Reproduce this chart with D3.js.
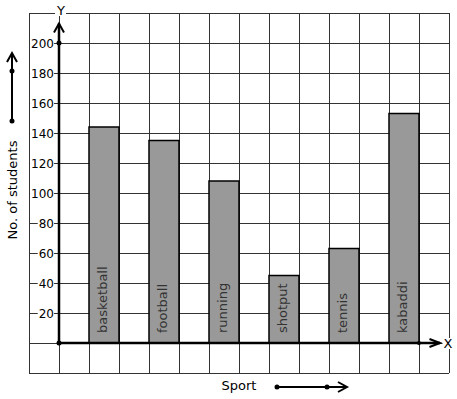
<!DOCTYPE html>
<html><head><meta charset="utf-8">
<script src="https://cdn.jsdelivr.net/npm/d3@7"></script>
<style>html,body{margin:0;padding:0;background:#fff;}svg{display:block;font-family:"DejaVu Sans",sans-serif;}</style>
</head><body>
<svg id="c" width="457" height="399"></svg>
<script>
const categories = ["basketball","football","running","shotput","tennis","kabaddi"];
const values = [144,135,108,45,63,153];
const yTicks = [20,40,60,80,100,120,140,160,180,200];
const yTitle = "No. of students";
const xTitle = "Sport";

const svg = d3.select("#c");
const y = d3.scaleLinear().domain([0,200]).range([343,43]);
const xg = d3.scaleLinear().domain([-1,13]).range([29,449]); // grid columns
const x = d3.scaleBand().domain(categories).range([59,449]).paddingInner(0.5).paddingOuter(0.5);

// grid
const g = svg.append("g").attr("stroke","#333").attr("stroke-width",1).attr("shape-rendering","crispEdges");
d3.range(-20,221,20).forEach(v=>{
  g.append("line").attr("x1",xg(-1)).attr("x2",xg(13)).attr("y1",y(v)).attr("y2",y(v));
});
d3.range(-1,14,1).forEach(v=>{
  g.append("line").attr("y1",y(220)).attr("y2",y(-20)).attr("x1",xg(v)).attr("x2",xg(v));
});

// bars
svg.append("g").selectAll("rect").data(values).join("rect")
  .attr("x",(d,i)=>x(categories[i])).attr("width",x.bandwidth())
  .attr("y",d=>y(d)).attr("height",d=>y(0)-y(d))
  .attr("fill","#999").attr("stroke","#000").attr("stroke-width",1.5);

svg.append("g").selectAll("text").data(categories).join("text")
  .attr("transform",d=>`translate(${x(d)+x.bandwidth()/2+3},${y(0)-10}) rotate(-90)`)
  .attr("font-size",13).attr("fill","#333").text(d=>d);

// y axis ticks
const ax = svg.append("g").attr("transform","translate(54,0)")
  .call(d3.axisLeft(y).tickValues(yTicks).tickSize(0).tickPadding(0));
ax.select(".domain").remove();
ax.selectAll("text").attr("font-size",12).attr("font-family","DejaVu Sans, sans-serif").attr("fill","#000").attr("dy","0.36em");
ax.selectAll(".tick").each(function(){
  const t = d3.select(this).select("text");
  const b = t.node().getBBox();
  d3.select(this).insert("rect","text").attr("x",b.x-1).attr("y",b.y+1).attr("width",b.width+1).attr("height",b.height-2).attr("fill","#fff");
});

// axes lines
const axis = svg.append("g").attr("stroke","#000").attr("fill","none").attr("stroke-width",2.5);
axis.append("line").attr("x1",xg(0)).attr("x2",xg(0)).attr("y1",y(0)).attr("y2",y(213));
axis.append("path").attr("d",`M${xg(0)-5},${y(207)} L${xg(0)},${y(213)} L${xg(0)+5},${y(207)}`).attr("stroke-width",2);
axis.append("line").attr("x1",xg(0)).attr("x2",xg(12.7)).attr("y1",y(0)).attr("y2",y(0));
axis.append("path").attr("d",`M${xg(12.35)},${y(0)-4} L${xg(12.7)},${y(0)} L${xg(12.35)},${y(0)+4}`).attr("stroke-width",2);
svg.append("circle").attr("cx",xg(0)).attr("cy",y(0)).attr("r",2.5);
svg.append("circle").attr("cx",xg(0)).attr("cy",y(200)).attr("r",2.5);
svg.append("circle").attr("cx",xg(12)).attr("cy",y(0)).attr("r",2);

// axis letters with white bg
function boxedText(tx,ty,str){
  const gg = svg.append("g");
  const r = gg.append("rect").attr("fill","#fff");
  const t = gg.append("text").attr("x",tx).attr("y",ty).attr("text-anchor","middle").attr("font-size",13).text(str);
  const b = t.node().getBBox();
  r.attr("x",b.x-1).attr("y",b.y+2).attr("width",b.width+2).attr("height",b.height-4);
}
boxedText(61,15,"Y");
boxedText(448,348,"X");

// y title + arrow
svg.append("text").attr("transform","translate(17,190) rotate(-90)").attr("text-anchor","middle").attr("font-size",13).text(yTitle);
svg.append("line").attr("x1",12).attr("x2",12).attr("y1",121).attr("y2",53).attr("stroke","#000").attr("stroke-width",2);
svg.append("path").attr("d","M7,62 L12,53 L17,62").attr("stroke","#000").attr("fill","none").attr("stroke-width",2);
svg.append("circle").attr("cx",12).attr("cy",121).attr("r",2.5);
svg.append("circle").attr("cx",12).attr("cy",71).attr("r",2.5);

// x title + arrow
svg.append("text").attr("x",239).attr("y",390).attr("text-anchor","middle").attr("font-size",13).text(xTitle);
svg.append("line").attr("x1",277).attr("x2",346).attr("y1",387).attr("y2",387).attr("stroke","#000").attr("stroke-width",2);
svg.append("path").attr("d","M338,382 L347,387 L338,392").attr("stroke","#000").attr("fill","none").attr("stroke-width",2);
svg.append("circle").attr("cx",277).attr("cy",387).attr("r",2.5);
svg.append("circle").attr("cx",327).attr("cy",387).attr("r",2.5);
</script>
</body></html>
